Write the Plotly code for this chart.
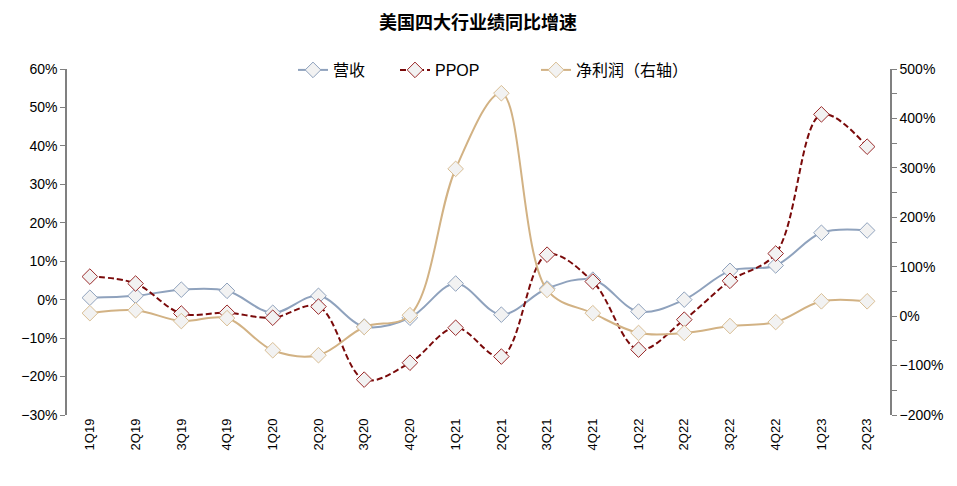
import plotly.graph_objects as go

quarters = ["1Q19", "2Q19", "3Q19", "4Q19", "1Q20", "2Q20", "3Q20", "4Q20", "1Q21", "2Q21",
            "3Q21", "4Q21", "1Q22", "2Q22", "3Q22", "4Q22", "1Q23", "2Q23"]
revenue = [0.5, 1.0, 2.6, 2.3, -3.4, 1.0, -7.0, -4.7, 4.2, -3.9, 2.9, 5.2, -3.1, 0.0, 7.5, 8.9, 17.4, 18.0]
ppop = [6.0, 4.2, -3.6, -3.4, -4.7, -1.8, -20.8, -16.4, -7.3, -14.8, 11.7, 4.7, -13.0, -5.2, 4.9, 12.0, 48.2, 39.8]
net_income = [6, 12, -10, -4, -69, -79, -22, 2, 298, 451, 53, 6, -34, -34, -20, -12, 30, 30]

CJK = "Liberation Sans, Noto Sans CJK SC, sans-serif"
axis_col = "#808080"
OFF = 8  # page body margin in the browser
PLOT_L, PLOT_R, PLOT_T, PLOT_B = 67, 890, 69, 415  # target plot box on screen
PW = PLOT_R - PLOT_L
PH = PLOT_B - PLOT_T


def lx(px):
    return (px - PLOT_L) / PW


def ly(py):
    return (PLOT_B - py) / PH


fig = go.Figure()
fig.add_trace(go.Scatter(
    x=quarters, y=revenue, name="营收", mode="lines+markers", legend="legend",
    line=dict(color="#8FA2BD", width=2, shape="spline", smoothing=1),
    marker=dict(symbol="diamond", size=12, color="#F2F2F2", line=dict(color="#8FA2BD", width=1)),
))
fig.add_trace(go.Scatter(
    x=quarters, y=ppop, name="PPOP", mode="lines+markers", legend="legend2",
    line=dict(color="#7A0A0A", width=2, dash="6px,3px", shape="spline", smoothing=1),
    marker=dict(symbol="diamond", size=12, color="#F2F2F2", line=dict(color="#9B2A2A", width=1)),
))
fig.add_trace(go.Scatter(
    x=quarters, y=net_income, name="净利润（右轴）", mode="lines+markers", yaxis="y2", legend="legend3",
    line=dict(color="#D2B284", width=2, shape="spline", smoothing=1),
    marker=dict(symbol="diamond", size=12, color="#F2F2F2", line=dict(color="#D9BE94", width=1)),
))

leg_common = dict(orientation="h", xanchor="left", yanchor="middle", y=ly(70),
                  font=dict(size=16, family=CJK), bgcolor="rgba(255,255,255,0)")

fig.update_layout(
    width=957, height=486,
    margin=dict(l=PLOT_L - OFF, r=957 - PLOT_R + OFF, t=PLOT_T - OFF, b=486 - PLOT_B + OFF,
                autoexpand=False),
    paper_bgcolor="white", plot_bgcolor="white",
    font=dict(family=CJK, size=12, color="#000000"),
    title=dict(text="<b>美国四大行业绩同比增速</b>", x=(478 - OFF) / 957, xanchor="center",
               y=1 - (23 - OFF) / 486, yanchor="middle",
               font=dict(size=18, family="Noto Sans CJK SC, sans-serif")),
    showlegend=True,
    legend=dict(x=lx(293), **leg_common),
    legend2=dict(x=lx(395), **leg_common),
    legend3=dict(x=lx(536), **leg_common),
    xaxis=dict(type="category", range=[-0.5, len(quarters) - 0.5], showline=False, showgrid=False,
               ticks="", tickangle=-90,
               automargin=False, tickfont=dict(size=13, color="#000000")),
    yaxis=dict(range=[-30, 60], dtick=10, ticksuffix="%", showgrid=False, zeroline=False,
               automargin=False,
               showline=True, linecolor=axis_col, linewidth=1.5, ticks="outside", ticklen=5,
               tickcolor=axis_col, tickfont=dict(size=14)),
    yaxis2=dict(range=[-200, 500], dtick=100, ticksuffix="%", overlaying="y", side="right",
                automargin=False,
                showgrid=False, zeroline=False, showline=True, linecolor=axis_col, linewidth=1.5,
                ticks="outside", ticklen=5, tickcolor=axis_col, tickfont=dict(size=14),
                minor=dict(dtick=50, ticks="outside", ticklen=5, tickcolor=axis_col)),
)

fig.write_html("out.html")
